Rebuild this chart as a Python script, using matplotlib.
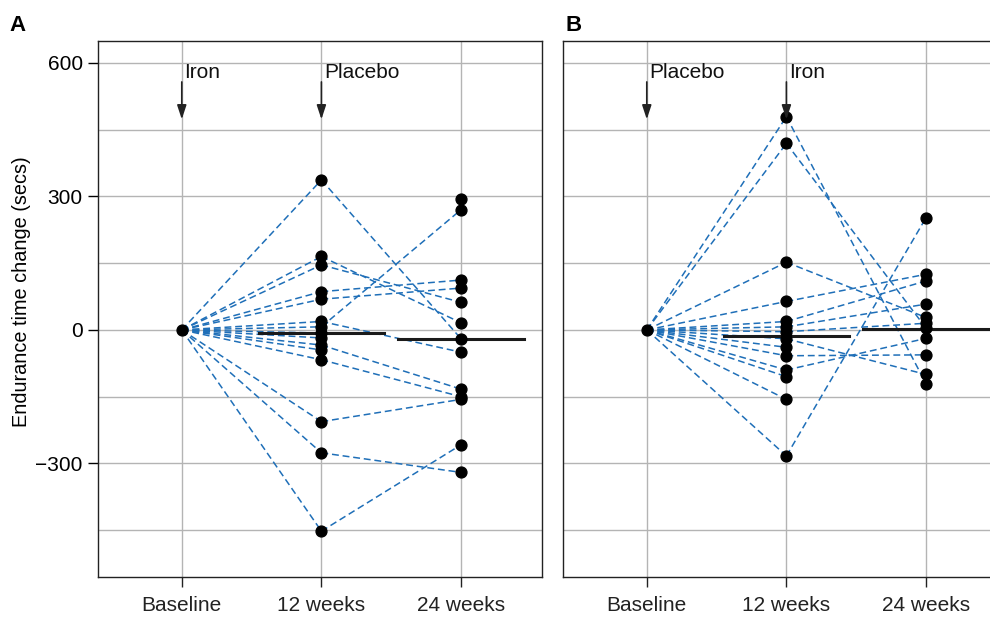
import numpy as np
import matplotlib
matplotlib.use('Agg')
import matplotlib.pyplot as plt

plt.rcParams['font.family'] = ['Liberation Sans', 'DejaVu Sans']

timepoints = ['Baseline', '12 weeks', '24 weeks']

# panel A: iron at baseline, placebo at 12 weeks
a_wk12 = [337, 165, 146, 86, 69, 19, 7, -7, -18, -34, -45, -67, -206, -276, -452, np.nan]
a_wk24 = [-20, 16, 62, 112, 94, -50, 270, np.nan, np.nan, -133, np.nan, -150, -156, -320, -258, 294]
a_median = [-7, -20]
a_labels = [('Iron', 1), ('Placebo', 2)]

# panel B: placebo at baseline, iron at 12 weeks
b_wk12 = [479, 419, 152, 64, 19, 7, -4, -20, -39, -58, -90, -105, -156, -283]
b_wk24 = [-121, 4, 28, 125, 110, 58, 15, -100, np.nan, -56, -19, np.nan, np.nan, 252]
b_median = [-13, 1]
b_labels = [('Placebo', 1), ('Iron', 2)]

blue = '#1f6fb8'


def draw_panel(ax, wk12, wk24, medians, labels, show_y):
    x = [1, 2, 3]
    for v12, v24 in zip(wk12, wk24):
        if not np.isnan(v12):
            ax.plot([x[0], x[1]], [0, v12], color=blue, lw=1.1, ls=(0, (4.5, 2.5)), zorder=2)
        if not np.isnan(v12) and not np.isnan(v24):
            ax.plot([x[1], x[2]], [v12, v24], color=blue, lw=1.1, ls=(0, (4.5, 2.5)), zorder=2)

    for xi, m in zip(x[1:], medians):
        ax.plot([xi - 0.45, xi + 0.45], [m, m], color='#1a1a1a', lw=2.2, zorder=3)

    ax.plot([x[0]], [0], 'o', color='black', ms=7.8, zorder=4)
    w12 = np.array(wk12, dtype=float)
    w24 = np.array(wk24, dtype=float)
    ax.plot(np.full(np.sum(~np.isnan(w12)), x[1]), w12[~np.isnan(w12)], 'o',
            color='black', ms=7.8, zorder=4)
    ax.plot(np.full(np.sum(~np.isnan(w24)), x[2]), w24[~np.isnan(w24)], 'o',
            color='black', ms=7.8, zorder=4)

    for text, xi in labels:
        ax.annotate('', xy=(xi, 473), xytext=(xi, 557),
                    arrowprops=dict(arrowstyle='-|>,head_width=0.28,head_length=0.85',
                                    color='#222222', lw=1.2, shrinkA=0, shrinkB=0),
                    zorder=5)
        ax.text(xi + 0.02, 578, text, fontsize=15, va='center', ha='left', color='#111111')

    ax.set_xlim(0.4, 3.58)
    ax.set_ylim(-555, 649)
    ax.set_xticks(x)
    ax.set_xticklabels(timepoints, fontsize=15)
    ax.set_yticks([-300, 0, 300, 600])
    ax.set_yticks(np.arange(-450, 601, 150), minor=True)
    ax.grid(True, which='both', color='#b4b4b4', lw=1.0, zorder=0)
    ax.set_axisbelow(True)
    ax.tick_params(axis='x', length=7, width=1, direction='out', pad=7, colors='#222222')
    ax.tick_params(axis='y', which='minor', length=0)
    if show_y:
        ax.set_yticklabels(['\u2212300', '0', '300', '600'], fontsize=15)
        ax.tick_params(axis='y', which='major', length=7, width=1, direction='out', pad=4)
    else:
        ax.tick_params(axis='y', which='major', length=0, labelleft=False)
    for s in ax.spines.values():
        s.set_color('#222222')
        s.set_linewidth(1.0)


fig = plt.figure(figsize=(9.9, 6.18), dpi=100)
ax_a = fig.add_axes([0.099, 0.0663, 0.4485, 0.8674])
ax_b = fig.add_axes([0.5687, 0.0663, 0.4485, 0.8674])

draw_panel(ax_a, a_wk12, a_wk24, a_median, a_labels, True)
draw_panel(ax_b, b_wk12, b_wk24, b_median, b_labels, False)

fig.text(0.0222, 1 - 292 / 618, 'Endurance time change (secs)', fontsize=14.3,
         rotation=90, ha='center', va='center')
fig.text(0.010, 0.975, 'A', fontsize=16, fontweight='bold', va='top', ha='left')
fig.text(0.571, 0.975, 'B', fontsize=16, fontweight='bold', va='top', ha='left')

fig.savefig('out.png', dpi=100)
